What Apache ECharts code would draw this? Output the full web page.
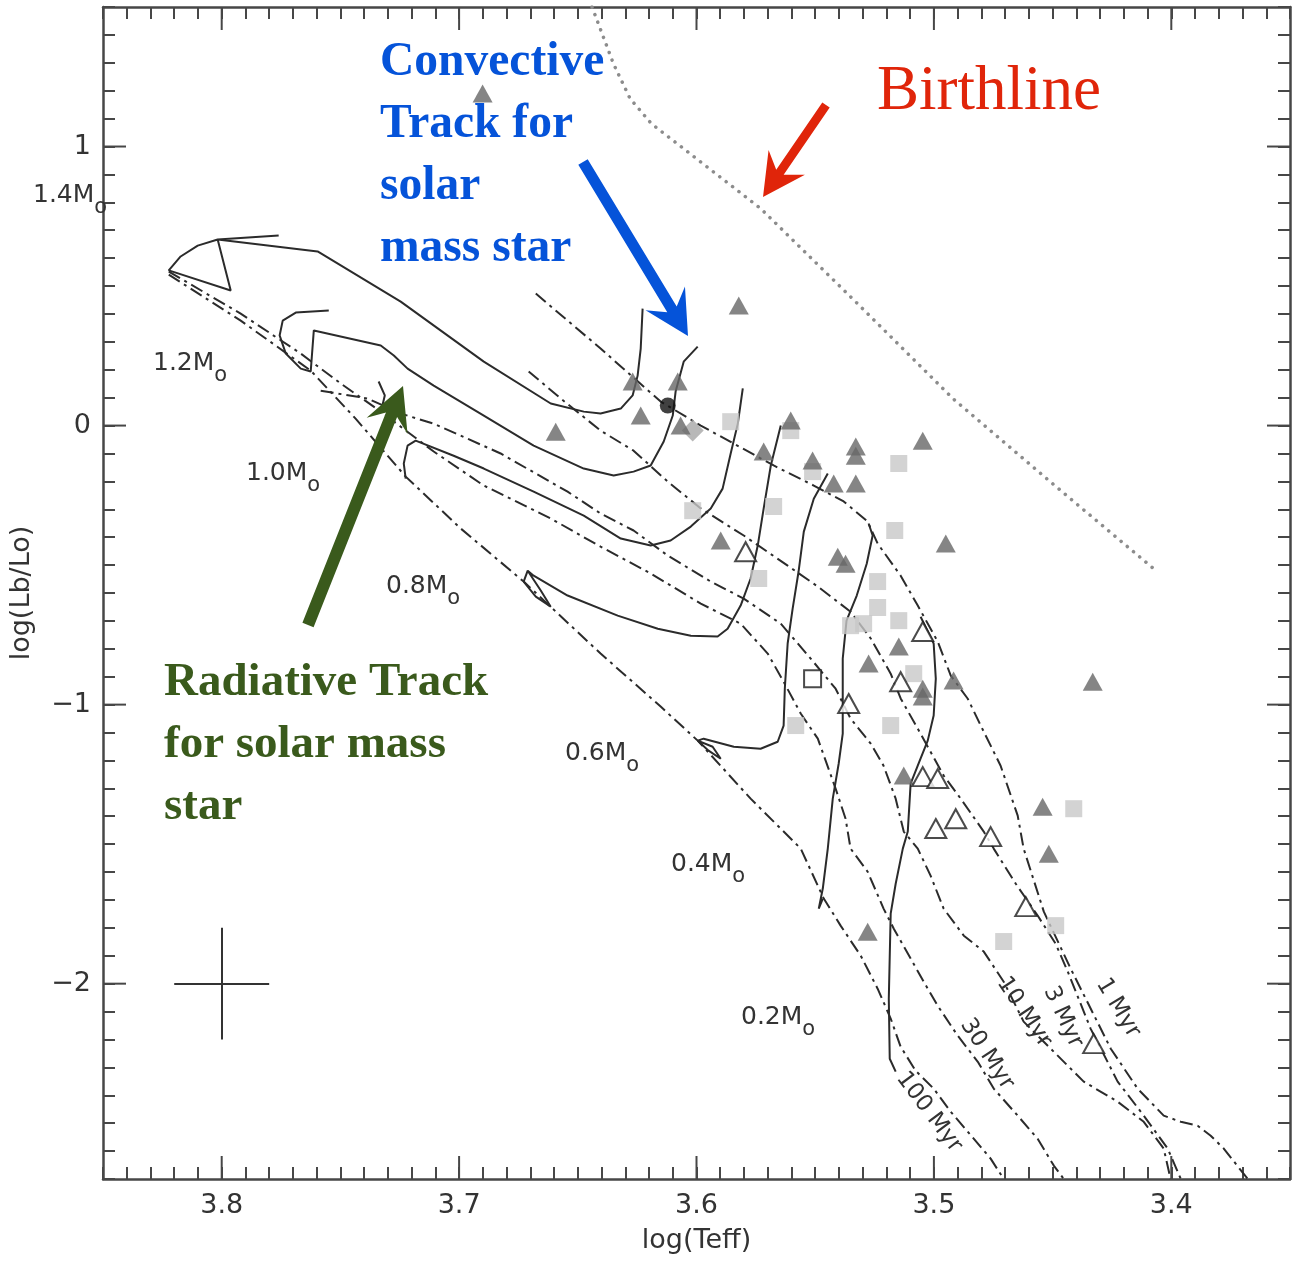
<!DOCTYPE html>
<html>
<head>
<meta charset="utf-8">
<script src="https://cdn.jsdelivr.net/npm/echarts@6.0.0/dist/echarts.min.js"></script>
<style>
html,body{margin:0;padding:0;background:#ffffff;}
#chart{width:1297px;height:1271px;}
</style>
</head>
<body>
<div id="chart"></div>
<script>
// ---------------- DATA (log Teff, log L/Lsun) ----------------
const xMajorTicks = [3.4, 3.5, 3.6, 3.7, 3.8];
const yMajorTicks = [-2, -1, 0, 1];

const birthline = [[3.644,1.50],[3.635,1.297],[3.628,1.172],[3.619,1.082],[3.573,0.778],[3.533,0.444],[3.492,0.097],[3.451,-0.201],[3.406,-0.523]];

const track14 = [[3.6227,0.419],[3.6235,0.276],[3.6248,0.179],[3.6269,0.108],[3.6319,0.061],[3.6404,0.043],[3.6475,0.050],[3.6614,0.079],[3.6896,0.229],[3.7246,0.444],[3.7596,0.624],[3.8017,0.667],[3.7962,0.484],[3.8223,0.556],[3.8173,0.606],[3.8101,0.645],[3.8017,0.667],[3.7760,0.681]];
const track12 = [[3.5995,0.283],[3.6054,0.229],[3.6088,0.122],[3.6100,0.036],[3.6138,-0.057],[3.6193,-0.143],[3.6265,-0.165],[3.6349,-0.179],[3.6475,-0.154],[3.6686,-0.072],[3.6896,0.036],[3.7107,0.143],[3.7217,0.204],[3.7275,0.251],[3.7330,0.287],[3.7612,0.341],[3.7625,0.194],[3.7667,0.204],[3.7730,0.258],[3.7756,0.323],[3.7743,0.376],[3.7688,0.405],[3.7549,0.412]];
const track10 = [[3.5805,0.133],[3.5826,0.007],[3.5856,-0.100],[3.5890,-0.226],[3.5940,-0.297],[3.6024,-0.362],[3.6109,-0.412],[3.6193,-0.430],[3.6319,-0.405],[3.6475,-0.323],[3.6686,-0.237],[3.6896,-0.154],[3.7023,-0.108],[3.7183,-0.054],[3.7217,-0.072],[3.7233,-0.136],[3.7225,-0.190]];
const track10Mark = [[3.7339,0.158],[3.7313,0.108],[3.7326,0.061]];
const track08 = [[3.5645,0.000],[3.5687,-0.143],[3.5717,-0.297],[3.5742,-0.430],[3.5772,-0.548],[3.5814,-0.645],[3.5869,-0.728],[3.5911,-0.756],[3.6024,-0.753],[3.6163,-0.728],[3.6332,-0.681],[3.6543,-0.609],[3.6686,-0.538],[3.6711,-0.520],[3.6728,-0.559],[3.6677,-0.613],[3.6614,-0.649],[3.6656,-0.591],[3.6711,-0.520]];
const track06 = [[3.5447,-0.172],[3.5506,-0.262],[3.5548,-0.380],[3.5570,-0.523],[3.5595,-0.656],[3.5616,-0.781],[3.5628,-0.943],[3.5633,-1.075],[3.5658,-1.133],[3.5730,-1.158],[3.5843,-1.151],[3.5970,-1.122],[3.5995,-1.129],[3.5949,-1.165],[3.5898,-1.194],[3.5932,-1.151],[3.5995,-1.129]];
const track04 = [[3.5275,-0.351],[3.5258,-0.394],[3.5283,-0.495],[3.5325,-0.609],[3.5368,-0.699],[3.5384,-0.835],[3.5384,-0.978],[3.5384,-1.104],[3.5401,-1.211],[3.5426,-1.337],[3.5447,-1.516],[3.5468,-1.659],[3.5485,-1.731],[3.5468,-1.695]];
const track02 = [[3.5056,-0.685],[3.5001,-0.781],[3.4992,-0.907],[3.5001,-1.039],[3.5026,-1.129],[3.5068,-1.219],[3.5098,-1.283],[3.5110,-1.455],[3.5131,-1.516],[3.5161,-1.642],[3.5182,-1.749],[3.5190,-2.054],[3.5186,-2.269],[3.5161,-2.315]];

const iso1 = [[3.6677,0.473],[3.6404,0.276],[3.6151,0.086],[3.5982,0.000],[3.5675,-0.143],[3.5506,-0.215],[3.5380,-0.272],[3.5279,-0.344],[3.5237,-0.423],[3.5140,-0.538],[3.5068,-0.645],[3.4984,-0.774],[3.4929,-0.896],[3.4858,-0.978],[3.4790,-1.097],[3.4719,-1.219],[3.4647,-1.398],[3.4622,-1.516],[3.4537,-1.742],[3.4424,-1.946],[3.4255,-2.233],[3.4142,-2.376],[3.4032,-2.473],[3.3960,-2.495],[3.3889,-2.509],[3.3834,-2.545],[3.3779,-2.591],[3.3678,-2.70]];
const iso3 = [[3.6707,0.194],[3.6572,0.097],[3.6404,-0.018],[3.6265,-0.090],[3.6121,-0.201],[3.5982,-0.297],[3.5801,-0.394],[3.5616,-0.502],[3.5489,-0.577],[3.5351,-0.667],[3.5266,-0.763],[3.5182,-0.889],[3.5140,-0.978],[3.5068,-1.086],[3.4959,-1.254],[3.4887,-1.337],[3.4790,-1.455],[3.4748,-1.516],[3.4655,-1.642],[3.4563,-1.756],[3.4487,-1.857],[3.4436,-1.957],[3.4340,-2.161],[3.4226,-2.351],[3.4116,-2.473],[3.4015,-2.591],[3.3960,-2.70]];
const iso10 = [[3.7583,0.125],[3.7385,0.097],[3.7246,0.043],[3.7107,0.007],[3.6825,-0.100],[3.6543,-0.237],[3.6404,-0.315],[3.6265,-0.376],[3.6121,-0.466],[3.5940,-0.559],[3.5801,-0.620],[3.5645,-0.710],[3.5519,-0.835],[3.5414,-0.943],[3.5351,-1.050],[3.5266,-1.140],[3.5212,-1.219],[3.5161,-1.337],[3.5127,-1.455],[3.5068,-1.516],[3.5014,-1.613],[3.4959,-1.731],[3.4874,-1.828],[3.4790,-1.885],[3.4706,-1.993],[3.4622,-2.136],[3.4508,-2.233],[3.4369,-2.351],[3.4226,-2.423],[3.4116,-2.495],[3.4032,-2.591],[3.4003,-2.70]];
const iso30 = [[3.8223,0.552],[3.7920,0.401],[3.7667,0.258],[3.7499,0.151],[3.7330,0.050],[3.7107,-0.093],[3.6896,-0.215],[3.6614,-0.333],[3.6404,-0.434],[3.6193,-0.530],[3.5982,-0.638],[3.5814,-0.710],[3.5700,-0.817],[3.5633,-0.918],[3.5561,-1.032],[3.5489,-1.122],[3.5414,-1.301],[3.5372,-1.409],[3.5351,-1.516],[3.5279,-1.599],[3.5212,-1.731],[3.5169,-1.803],[3.5098,-1.910],[3.5043,-1.993],[3.4984,-2.079],[3.4900,-2.186],[3.4815,-2.280],[3.4748,-2.376],[3.4647,-2.473],[3.4563,-2.556],[3.4495,-2.652],[3.4453,-2.70]];
const iso100 = [[3.8223,0.541],[3.7920,0.376],[3.7625,0.197],[3.7436,0.025],[3.7225,-0.183],[3.6993,-0.369],[3.6728,-0.559],[3.6404,-0.817],[3.6151,-1.007],[3.5995,-1.129],[3.5772,-1.337],[3.5561,-1.516],[3.5464,-1.695],[3.5393,-1.792],[3.5308,-1.900],[3.5237,-2.018],[3.5182,-2.125],[3.5140,-2.226],[3.5077,-2.312],[3.5001,-2.376],[3.4929,-2.459],[3.4858,-2.530],[3.4761,-2.627],[3.4706,-2.70]];

const filledTriangles = [[3.6901,1.190],[3.5822,0.430],[3.6269,0.158],[3.6079,0.158],[3.6235,0.036],[3.6593,-0.022],[3.6067,0.000],[3.5717,-0.093],[3.5603,0.018],[3.5511,-0.125],[3.5329,-0.075],[3.5329,-0.108],[3.5422,-0.208],[3.5329,-0.208],[3.5047,-0.054],[3.4950,-0.423],[3.5898,-0.412],[3.5405,-0.470],[3.5372,-0.495],[3.5148,-0.792],[3.5275,-0.853],[3.4917,-0.914],[3.5047,-0.943],[3.5047,-0.971],[3.4331,-0.918],[3.5127,-1.254],[3.4542,-1.366],[3.4516,-1.534],[3.5279,-1.814]];
const openTriangles = [[3.5793,-0.452],[3.5047,-0.738],[3.5359,-0.996],[3.5140,-0.918],[3.5047,-1.258],[3.4984,-1.265],[3.4992,-1.444],[3.4908,-1.409],[3.4761,-1.473],[3.4613,-1.724],[3.4327,-2.215]];
const graySquares = [[3.5856,0.014],[3.5603,-0.018],[3.6016,-0.305],[3.5675,-0.290],[3.5511,-0.165],[3.5148,-0.136],[3.5738,-0.548],[3.5165,-0.376],[3.5237,-0.559],[3.5237,-0.652],[3.5148,-0.699],[3.5351,-0.717],[3.5296,-0.710],[3.5085,-0.889],[3.5182,-1.075],[3.5582,-1.075],[3.4411,-1.373],[3.4487,-1.792],[3.4706,-1.849]];
const openSquares = [[3.5511,-0.907]];
const blackCircles = [[3.6121,0.072]];
const grayDiamonds = [[3.6016,-0.018]];

const errX = [3.78, 3.82];
const errY = [-2.2, -1.8];
const errCenter = [3.8, -2.0];

// ---------------- STYLE / LAYOUT ----------------
const X_MIN = 3.35, X_MAX = 3.85, Y_MIN = -2.7, Y_MAX = 1.5;
const AX = '#474747';
const LINE = '#2b2b2b';
const FONT = 'DejaVu Sans';
const MAJOR_LEN = 23;

function fmtX(v) {
  const r = Math.round(v * 10) / 10;
  return Math.abs(v - r) < 1e-6 ? r.toFixed(1) : '';
}
function fmtY(v) {
  const r = Math.round(v);
  if (Math.abs(v - r) > 1e-6) return '';
  return (r < 0 ? '\u2212' : '') + Math.abs(r);
}

function xAxisCfg(pos, labels) {
  return {
    type: 'value', position: pos, min: X_MIN, max: X_MAX, interval: 0.01, inverse: true,
    axisLine: { show: true, onZero: false, lineStyle: { color: AX, width: 2.5 } },
    axisTick: { show: true, inside: true, length: 12, lineStyle: { color: AX, width: 2 } },
    splitLine: { show: false },
    axisLabel: { show: labels, margin: 13, color: '#333', fontSize: 27, fontFamily: FONT, formatter: fmtX },
    name: labels ? 'log(Teff)' : '', nameLocation: 'middle', nameGap: 48,
    nameTextStyle: { color: '#333', fontSize: 27, fontFamily: FONT }
  };
}
function yAxisCfg(pos, labels) {
  return {
    type: 'value', position: pos, min: Y_MIN, max: Y_MAX, interval: 0.1,
    axisLine: { show: true, onZero: false, lineStyle: { color: AX, width: 2.5 } },
    axisTick: { show: true, inside: true, length: 12, lineStyle: { color: AX, width: 2 } },
    splitLine: { show: false },
    axisLabel: { show: labels, margin: 12, color: '#333', fontSize: 27, fontFamily: FONT, formatter: fmtY },
    name: labels ? 'log(Lb/Lo)' : '', nameLocation: 'middle', nameGap: 68, nameRotate: 90,
    nameTextStyle: { color: '#333', fontSize: 27, fontFamily: FONT }
  };
}

function trackSeries(data) {
  return { type: 'line', data: data, showSymbol: false, symbol: 'none', silent: true, z: 3,
    lineStyle: { color: LINE, width: 2 } };
}
function isoSeries(data) {
  return { type: 'line', data: data, showSymbol: false, symbol: 'none', silent: true, z: 2,
    lineStyle: { color: LINE, width: 2, type: [13, 5, 3, 5] } };
}

const chart = echarts.init(document.getElementById('chart'), null, { renderer: 'canvas' });

const series = [
  { type: 'line', data: birthline, showSymbol: false, symbol: 'none', silent: true, z: 2,
    lineStyle: { color: '#8c8c8c', width: 3.5, type: [0.1, 8], cap: 'round' } },
  isoSeries(iso1), isoSeries(iso3), isoSeries(iso10), isoSeries(iso30), isoSeries(iso100),
  trackSeries(track14), trackSeries(track12), trackSeries(track10), trackSeries(track10Mark),
  trackSeries(track08), trackSeries(track06), trackSeries(track04), trackSeries(track02),
  { type: 'lines', coordinateSystem: 'cartesian2d', silent: true, z: 3,
    lineStyle: { color: '#333', width: 2, opacity: 1 },
    data: [ { coords: [[errX[0], errCenter[1]], [errX[1], errCenter[1]]] },
            { coords: [[errCenter[0], errY[0]], [errCenter[0], errY[1]]] } ] },
  { type: 'scatter', data: graySquares, symbol: 'rect', symbolSize: 17, silent: true, z: 4,
    itemStyle: { color: '#c8c8c8' } },
  { type: 'scatter', data: grayDiamonds, symbol: 'diamond', symbolSize: 22, silent: true, z: 4,
    itemStyle: { color: '#a6a6a6' } },
  { type: 'scatter', data: filledTriangles, symbol: 'triangle', symbolSize: [20, 18], silent: true, z: 5,
    itemStyle: { color: '#676767' } },
  { type: 'scatter', data: openTriangles, symbol: 'triangle', symbolSize: [21, 19], silent: true, z: 5,
    itemStyle: { color: '#ffffff', borderColor: '#1e1e1e', borderWidth: 2 } },
  { type: 'scatter', data: openSquares, symbol: 'rect', symbolSize: 17, silent: true, z: 5,
    itemStyle: { color: '#ffffff', borderColor: '#1e1e1e', borderWidth: 2 } },
  { type: 'scatter', data: blackCircles, symbol: 'circle', symbolSize: 16, silent: true, z: 5,
    itemStyle: { color: '#111111' } },
  { type: 'custom', silent: true, z: 6, clip: false,
    data: xMajorTicks.map(v => [v, Y_MIN]),
    renderItem: function (params, api) {
      const v = api.value(0);
      const b = api.coord([v, Y_MIN]), t = api.coord([v, Y_MAX]);
      return { type: 'group', children: [
        { type: 'line', shape: { x1: b[0], y1: b[1], x2: b[0], y2: b[1] - MAJOR_LEN }, style: { stroke: AX, lineWidth: 2 } },
        { type: 'line', shape: { x1: t[0], y1: t[1], x2: t[0], y2: t[1] + MAJOR_LEN }, style: { stroke: AX, lineWidth: 2 } }
      ] };
    } },
  { type: 'custom', silent: true, z: 6, clip: false,
    data: yMajorTicks.map(v => [X_MAX, v]),
    renderItem: function (params, api) {
      const v = api.value(1);
      const l = api.coord([X_MAX, v]), r = api.coord([X_MIN, v]);
      return { type: 'group', children: [
        { type: 'line', shape: { x1: l[0], y1: l[1], x2: l[0] + MAJOR_LEN, y2: l[1] }, style: { stroke: AX, lineWidth: 2 } },
        { type: 'line', shape: { x1: r[0], y1: r[1], x2: r[0] - MAJOR_LEN, y2: r[1] }, style: { stroke: AX, lineWidth: 2 } }
      ] };
    } }
];

// ---------------- ANNOTATIONS ----------------
function arrowPoly(s, t, w, headLen, hw, notch) {
  const dx = t[0] - s[0], dy = t[1] - s[1];
  const L = Math.hypot(dx, dy);
  const ux = dx / L, uy = dy / L, nx = -uy, ny = ux;
  const neck = [t[0] - ux * notch, t[1] - uy * notch];
  const base = [t[0] - ux * headLen, t[1] - uy * headLen];
  return [
    [s[0] + nx * w / 2, s[1] + ny * w / 2],
    [neck[0] + nx * w / 2, neck[1] + ny * w / 2],
    [base[0] + nx * hw, base[1] + ny * hw],
    [t[0], t[1]],
    [base[0] - nx * hw, base[1] - ny * hw],
    [neck[0] - nx * w / 2, neck[1] - ny * w / 2],
    [s[0] - nx * w / 2, s[1] - ny * w / 2]
  ];
}
const BLUE = '#0553d9', RED = '#e0250a', GREEN = '#3a5a1c';

const massRich = {
  a: { fontSize: 25, fontFamily: FONT, lineHeight: 25, verticalAlign: 'top', fill: '#333', color: '#333' },
  b: { fontSize: 21, fontFamily: FONT, lineHeight: 36, verticalAlign: 'bottom', fill: '#333', color: '#333' }
};
function massLabel(txt, x, cy) {
  return { type: 'text', x: x, y: cy - 12.5, z: 50, silent: true,
    style: { text: '{a|' + txt + '}{b|o}', rich: massRich, align: 'left', verticalAlign: 'top', fill: '#333' } };
}
function isoLabel(txt, cx, cy, deg) {
  return { type: 'text', x: cx, y: cy, rotation: -deg * Math.PI / 180, z: 50, silent: true,
    style: { text: txt, font: '23px "DejaVu Sans"', fill: '#333', align: 'center', verticalAlign: 'middle' } };
}

const graphic = [
  { type: 'polygon', z: 60, silent: true, shape: { points: arrowPoly([583, 162], [688, 336], 11, 44, 23, 31) }, style: { fill: BLUE } },
  { type: 'polygon', z: 60, silent: true, shape: { points: arrowPoly([826, 105], [763, 197], 9, 42, 22, 30) }, style: { fill: RED } },
  { type: 'polygon', z: 60, silent: true, shape: { points: arrowPoly([308, 625], [403, 386], 12, 43, 22, 31) }, style: { fill: GREEN } },
  { type: 'text', x: 380, y: 32, z: 60, silent: true,
    style: { text: 'Convective\nTrack for\nsolar\nmass star', font: 'bold 47.5px "Liberation Serif"', lineHeight: 62, fill: BLUE, align: 'left', verticalAlign: 'top' } },
  { type: 'text', x: 877, y: 92, z: 60, silent: true,
    style: { text: 'Birthline', font: '63px "Liberation Serif"', fill: RED, align: 'left', verticalAlign: 'middle' } },
  { type: 'text', x: 164, y: 652, z: 60, silent: true,
    style: { text: 'Radiative Track\nfor solar mass\nstar', font: 'bold 47px "Liberation Serif"', lineHeight: 62, fill: GREEN, align: 'left', verticalAlign: 'top' } },
  massLabel('1.4M', 33, 195),
  massLabel('1.2M', 153, 363),
  massLabel('1.0M', 246, 473),
  massLabel('0.8M', 386, 586),
  massLabel('0.6M', 565, 753),
  massLabel('0.4M', 671, 864),
  massLabel('0.2M', 741, 1017),
  isoLabel('100 Myr', 929, 1112, 53),
  isoLabel('30 Myr', 987, 1054, 57),
  isoLabel('10 Myr', 1024, 1012, 56),
  isoLabel('3 Myr', 1063, 1017, 65),
  isoLabel('1 Myr', 1118, 1008, 59)
];

chart.setOption({
  animation: false,
  backgroundColor: '#ffffff',
  textStyle: { fontFamily: FONT },
  grid: { left: 103, right: 7, top: 7, bottom: 92, containLabel: false, outerBoundsMode: 'none' },
  xAxis: [xAxisCfg('bottom', true), xAxisCfg('top', false)],
  yAxis: [yAxisCfg('left', true), yAxisCfg('right', false)],
  series: series,
  graphic: graphic
});
</script>
</body>
</html>
